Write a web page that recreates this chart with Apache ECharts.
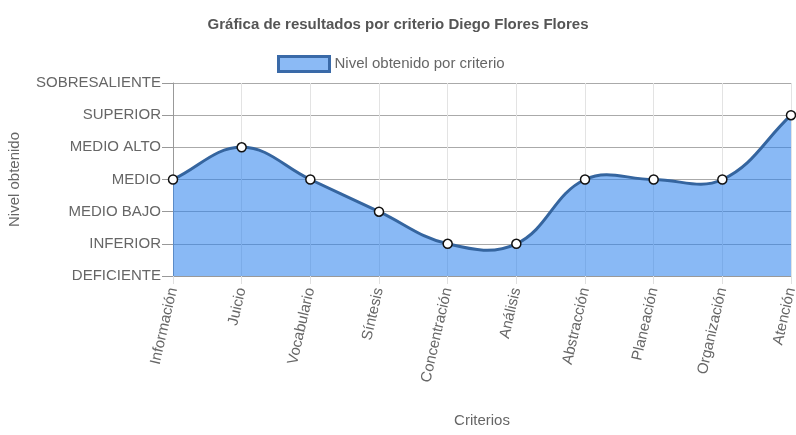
<!DOCTYPE html>
<html><head><meta charset="utf-8">
<script src="https://cdn.jsdelivr.net/npm/echarts@6/dist/echarts.min.js"></script>
<style>html,body{margin:0;padding:0;background:#fff}#c{width:796px;height:435px}</style>
</head><body><div id="c"></div>
<script>
const levels = ['DEFICIENTE','INFERIOR','MEDIO BAJO','MEDIO','MEDIO ALTO','SUPERIOR','SOBRESALIENTE'];
const categories = ['Información','Juicio','Vocabulario','Síntesis','Concentración','Análisis','Abstracción','Planeación','Organización','Atención'];
const values = [3,4,3,2,1,1,3,3,3,5];
const seriesName = 'Nivel obtenido por criterio';
const font = 'Liberation Sans, Arial, sans-serif';
const fillColor = 'rgba(40,128,237,0.55)';
const lineColor = '#35659f';
const tension = 0.4;

function renderCurve(params, api) {
  const pts = values.map((v, i) => api.coord([i, v]));
  const cs = params.coordSys;
  const n = pts.length;
  const cp = pts.map((cur, i) => {
    const prev = i > 0 ? pts[i - 1] : cur;
    const next = i < n - 1 ? pts[i + 1] : cur;
    const d01 = Math.hypot(cur[0] - prev[0], cur[1] - prev[1]);
    const d12 = Math.hypot(next[0] - cur[0], next[1] - cur[1]);
    let s01 = d01 / (d01 + d12), s12 = d12 / (d01 + d12);
    if (!isFinite(s01)) s01 = 0; if (!isFinite(s12)) s12 = 0;
    const fa = tension * s01, fb = tension * s12;
    const clampY = y => Math.max(cs.y, Math.min(cs.y + cs.height, y));
    const clampX = x => Math.max(cs.x, Math.min(cs.x + cs.width, x));
    return {
      p: [clampX(cur[0] - fa * (next[0] - prev[0])), clampY(cur[1] - fa * (next[1] - prev[1]))],
      nx: [clampX(cur[0] + fb * (next[0] - prev[0])), clampY(cur[1] + fb * (next[1] - prev[1]))]
    };
  });
  let d = 'M' + pts[0][0] + ' ' + pts[0][1];
  for (let i = 0; i < n - 1; i++) {
    d += ' C' + cp[i].nx[0] + ' ' + cp[i].nx[1] + ' ' + cp[i + 1].p[0] + ' ' + cp[i + 1].p[1] + ' ' + pts[i + 1][0] + ' ' + pts[i + 1][1];
  }
  const base0 = api.coord([0, 0]), base1 = api.coord([n - 1, 0]);
  const fillD = d + ' L' + base1[0] + ' ' + base1[1] + ' L' + base0[0] + ' ' + base0[1] + ' Z';
  return {
    type: 'group',
    children: [
      {type: 'path', shape: {pathData: fillD}, style: {fill: fillColor, stroke: null}},
      {type: 'path', shape: {pathData: d}, style: {fill: null, stroke: lineColor, lineWidth: 3}}
    ]
  };
}

const chart = echarts.init(document.getElementById('c'), null, {renderer:'canvas'});
chart.setOption({
  animation:false,
  title:{text:'Gráfica de resultados por criterio Diego Flores Flores',left:'center',top:12,
    textStyle:{fontFamily:font,fontSize:15,fontWeight:'bold',color:'#555'}},
  legend:{top:50,left:272,itemWidth:51,itemHeight:15,itemGap:6,
    textStyle:{fontFamily:font,fontSize:15,color:'#666'},
    data:[{name:seriesName,icon:'rect',
      itemStyle:{color:'#8bbaf5',borderColor:'#3a6aa8',borderWidth:3}}]},
  grid:{left:173,right:5,top:83,bottom:159,containLabel:false,outerBoundsMode:'none'},
  xAxis:{type:'category',data:categories,boundaryGap:false,
    name:'Criterios',nameLocation:'middle',nameGap:137,
    nameTextStyle:{fontFamily:font,fontSize:15,color:'#666'},
    axisLine:{show:true,lineStyle:{color:'#999'}},
    axisTick:{show:true,length:8,alignWithLabel:true,lineStyle:{color:'#e0e0e0'}},
    axisLabel:{rotate:77,fontFamily:font,fontSize:15,color:'#666',margin:12,interval:0},
    splitLine:{show:true,lineStyle:{color:'#e3e3e3'}}},
  yAxis:{type:'value',min:0,max:6,interval:1,
    name:'Nivel obtenido',nameLocation:'middle',nameGap:151,
    nameTextStyle:{fontFamily:font,fontSize:15,color:'#666'},
    axisLine:{show:true,lineStyle:{color:'#999'}},
    axisTick:{show:true,length:11,lineStyle:{color:'#999'}},
    axisLabel:{formatter:v=>levels[v],fontFamily:font,fontSize:15,color:'#666',margin:12},
    splitLine:{show:true,lineStyle:{color:'#aaa'}}},
  series:[
    {name:seriesName,type:'custom',renderItem:renderCurve,data:[[0,0]],clip:false,z:2,silent:true},
    {name:'puntos',type:'scatter',data:values.map((v,i)=>[categories[i],v]),
      symbol:'circle',symbolSize:9,z:5,
      itemStyle:{color:'#fff',borderColor:'#111',borderWidth:1.5,opacity:1}}
  ]
});
</script></body></html>
